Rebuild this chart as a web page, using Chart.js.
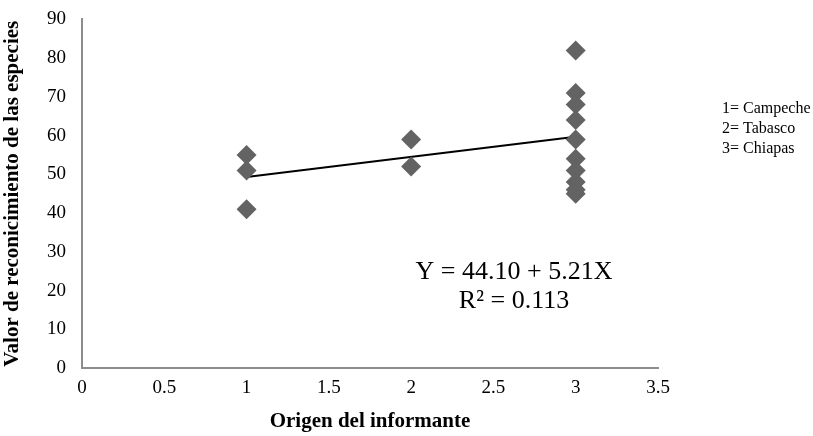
<!DOCTYPE html>
<html>
<head>
<meta charset="utf-8">
<script src="https://cdn.jsdelivr.net/npm/chart.js@4/dist/chart.umd.min.js"></script>
<style>
html,body{margin:0;padding:0;background:#fff;}
#wrap{width:813px;height:436px;position:relative;}
</style>
</head>
<body>
<div id="wrap"><canvas id="c" width="813" height="436"></canvas></div>
<script>
// Data
const origen = [1, 1, 1, 2, 2, 3, 3, 3, 3, 3, 3, 3, 3, 3, 3];
const valor  = [55, 51, 41, 59, 52, 82, 71, 68, 64, 59, 54, 51, 48, 46, 45];
const intercept = 44.10;
const slope = 5.21;
const fitX = [1, 3];
const xTicks = [0, 0.5, 1, 1.5, 2, 2.5, 3, 3.5];
const yTicks = [0, 10, 20, 30, 40, 50, 60, 70, 80, 90];
const legendLines = ['1= Campeche', '2= Tabasco', '3= Chiapas'];
const eqLines = ['Y = 44.10 + 5.21X', 'R² = 0.113'];

const SERIF = '"Liberation Serif","Times New Roman",serif';

const textPlugin = {
  id: 'texts',
  afterDraw(chart) {
    const ctx = chart.ctx;
    ctx.save();
    ctx.fillStyle = '#000';
    ctx.textBaseline = 'middle';
    ctx.font = '16px ' + SERIF;
    ctx.textAlign = 'left';
    legendLines.forEach((t, i) => ctx.fillText(t, 722, 109 + i * 20));
    ctx.font = '26px ' + SERIF;
    ctx.textAlign = 'center';
    eqLines.forEach((t, i) => ctx.fillText(t, 514, 272 + i * 29));
    ctx.restore();
  }
};

new Chart(document.getElementById('c'), {
  type: 'scatter',
  data: {
    datasets: [
      {
        data: origen.map((x, i) => ({x: x, y: valor[i]})),
        pointStyle: 'rectRot',
        pointRadius: 10,
        pointHoverRadius: 10,
        backgroundColor: '#636363',
        borderColor: '#636363',
        borderWidth: 0
      },
      {
        type: 'line',
        data: fitX.map(x => ({x: x, y: intercept + slope * x})),
        borderColor: '#000',
        borderWidth: 2,
        pointRadius: 0,
        fill: false
      }
    ]
  },
  plugins: [textPlugin],
  options: {
    responsive: false,
    animation: false,
    devicePixelRatio: 1,
    layout: {padding: {left: 0, right: 155, top: 18, bottom: 0}},
    plugins: {legend: {display: false}, tooltip: {enabled: false}},
    scales: {
      x: {
        type: 'linear',
        min: 0, max: 3.5,
        afterBuildTicks(s) { s.ticks = xTicks.map(v => ({value: v})); },
        afterFit(s) { s.height = 68; },
        grid: {display: false},
        border: {display: true, color: '#8c8c8c', width: 2},
        ticks: {color: '#000', font: {family: SERIF, size: 19}, padding: 1, maxRotation: 0,
                callback: v => String(v)},
        title: {display: true, text: 'Origen del informante', color: '#000',
                font: {family: SERIF, size: 21, weight: 'bold'}, padding: {top: 4, bottom: 2}}
      },
      y: {
        min: 0, max: 90,
        afterBuildTicks(s) { s.ticks = yTicks.map(v => ({value: v})); },
        afterFit(s) { s.width = 82; },
        grid: {display: false},
        border: {display: true, color: '#8c8c8c', width: 2},
        ticks: {color: '#000', font: {family: SERIF, size: 19}, padding: 8,
                callback: v => String(v)},
        title: {display: true, text: 'Valor de reconicimiento de las especies', color: '#000',
                font: {family: SERIF, size: 21, weight: 'bold'}, padding: {top: 0, bottom: 0}}
      }
    }
  }
});
</script>
</body>
</html>
